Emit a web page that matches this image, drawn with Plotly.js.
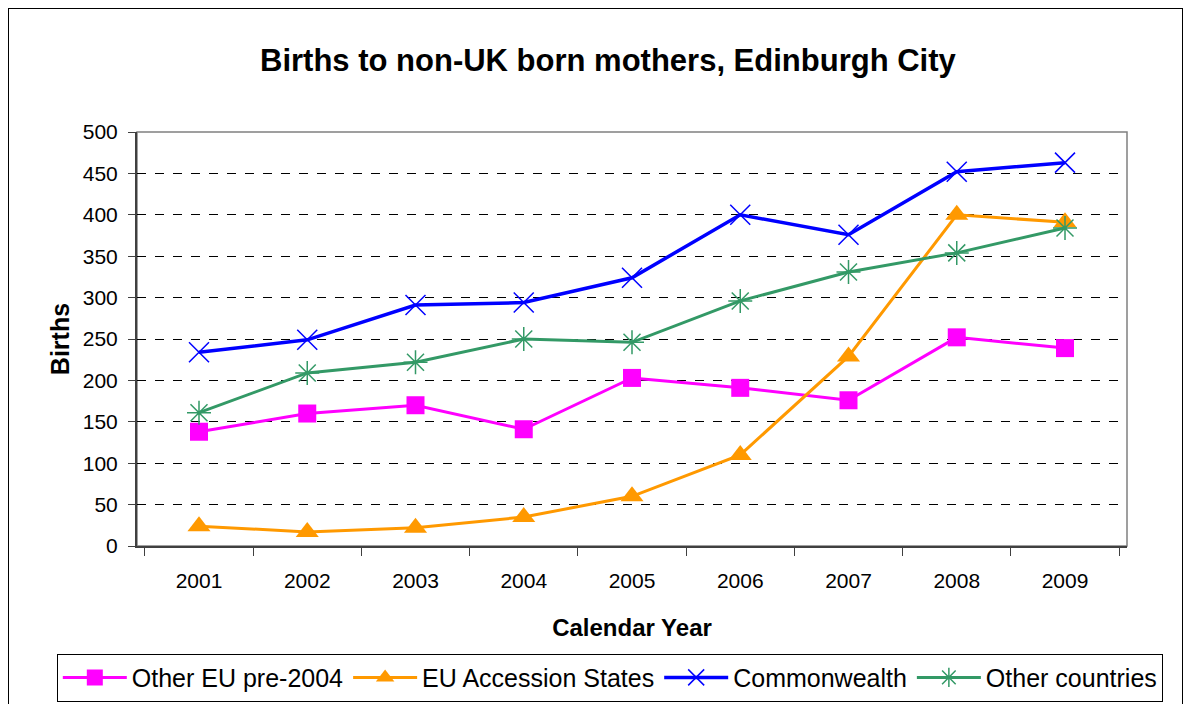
<!DOCTYPE html>
<html>
<head>
<meta charset="utf-8">
<script src="https://cdn.plot.ly/plotly-3.0.1.min.js"></script>
<style>
html,body{margin:0;padding:0;background:#fff;}
#chart{position:absolute;left:0;top:0;width:1185px;height:704px;}
#frame{position:absolute;left:8px;top:8px;width:1173px;height:720px;border:1px solid #000;pointer-events:none;}
</style>
</head>
<body>
<div id="chart"></div>
<div id="frame"></div>
<script>
const years = ['2001','2002','2003','2004','2005','2006','2007','2008','2009'];
const otherEUPre2004 = [138, 160, 170, 141, 203, 191, 176, 252, 239];
const euAccession = [24, 17, 22, 35, 60, 110, 229, 400, 391];
const commonwealth = [234, 249, 291, 294, 324, 400, 376, 452, 463];
const otherCountries = [161, 209, 222, 250, 246, 296, 331, 354, 384];

const traces = [
  {x: years, y: otherEUPre2004, name: 'Other EU pre-2004', mode: 'lines+markers',
   line: {color: '#ff00ff', width: 3}, marker: {symbol: 'square', size: 18, color: '#ff00ff'}},
  {x: years, y: euAccession, name: 'EU Accession States', mode: 'lines+markers',
   line: {color: '#ff9900', width: 3}, marker: {symbol: 'triangle-up', size: 20, color: '#ff9900'}},
  {x: years, y: commonwealth, name: 'Commonwealth', mode: 'lines+markers',
   line: {color: '#0000ff', width: 3.5}, marker: {symbol: 'x-thin-open', size: 20, color: '#0000ff', line: {color: '#0000ff', width: 1.5}}},
  {x: years, y: otherCountries, name: 'Other countries', mode: 'lines+markers',
   line: {color: '#339966', width: 3}, marker: {symbol: 'asterisk-open', size: 20, color: '#339966', line: {color: '#339966', width: 1.5}}}
];

const layout = {
  width: 1185, height: 704,
  margin: {l: 137, r: 58, t: 132, b: 158, autoexpand: false},
  paper_bgcolor: '#fff', plot_bgcolor: '#fff',
  font: {family: 'Liberation Sans, Arial, sans-serif', size: 21, color: '#000'},
  title: {text: '<b>Births to non-UK born mothers, Edinburgh City</b>', font: {size: 31, color: '#000'},
          x: 0.513, xanchor: 'center', y: 0.915, yanchor: 'middle'},
  xaxis: {type: 'category', tickson: 'boundaries', ticks: 'outside', ticklen: 8, tickcolor: '#404040',
          showline: true, linecolor: '#404040', linewidth: 2, mirror: false, showgrid: false,
          tickfont: {size: 21}, ticklabelstandoff: 15, automargin: false,
          title: {text: '<b>Calendar Year</b>', font: {size: 24}, standoff: 28}},
  yaxis: {range: [0, 500], dtick: 50, ticks: 'outside', ticklen: 7, tickcolor: '#404040',
          showline: true, linecolor: '#404040', linewidth: 2, showgrid: true,
          gridcolor: '#000', griddash: 'dash', gridwidth: 1, zeroline: false,
          tickfont: {size: 21}, ticklabelstandoff: 6, automargin: false,
          title: {text: '<b>Births</b>', font: {size: 25}, standoff: 6}},
  shapes: [
    {type: 'rect', xref: 'paper', yref: 'paper', x0: 0, x1: 1, y0: 0, y1: 1,
     line: {color: '#808080', width: 1.5}, fillcolor: 'rgba(0,0,0,0)', layer: 'below'}
  ],
  showlegend: true,
  legend: {orientation: 'h', x: -0.081, xanchor: 'left', y: -0.26, yanchor: 'top',
           bordercolor: '#000', borderwidth: 1, font: {size: 25}, itemwidth: 64,
           tracegroupgap: 0, bgcolor: '#fff'}
};

Plotly.newPlot('chart', traces, layout, {displayModeBar: false, staticPlot: true});
</script>
</body>
</html>
